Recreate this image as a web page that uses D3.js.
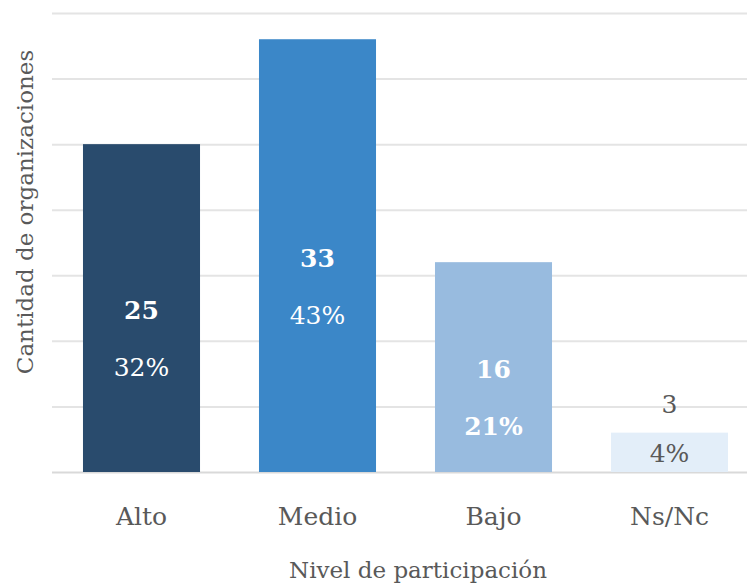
<!DOCTYPE html>
<html>
<head>
<meta charset="utf-8">
<script src="https://cdn.jsdelivr.net/npm/d3@7"></script>
<style>
  html, body { margin: 0; padding: 0; background: #ffffff; }
  svg { display: block; }
</style>
</head>
<body>
<svg id="chart" width="747" height="587"></svg>
<script>
// Participation level of organisations: count and share per level
const categories = ["Alto", "Medio", "Bajo", "Ns/Nc"];
const counts = [25, 33, 16, 3];
const shares = ["32%", "43%", "21%", "4%"];
const barColors = ["#294b6d", "#3b87c8", "#98bbdf", "#e3eef9"];
const gridTicks = [0, 5, 10, 15, 20, 25, 30, 35];

const W = 747, H = 587;
const plot = { left: 52, right: 747, top: 13, bottom: 472 };
const font = "'DejaVu Serif', 'Liberation Serif', serif";
const grey = "#595959";

const svg = d3.select("#chart");

const x = d3.scaleBand()
  .domain(categories)
  .range([53.5, 757.5])
  .paddingInner(0.335)
  .paddingOuter(0.1675);

const y = d3.scaleLinear()
  .domain([0, 35])
  .range([plot.bottom, plot.top]);

// horizontal gridlines
const yAxis = d3.axisLeft(y)
  .tickValues(gridTicks)
  .tickSize(-(plot.right - plot.left))
  .tickFormat("");
const gy = svg.append("g")
  .attr("transform", `translate(${plot.left},0)`)
  .call(yAxis);
gy.select(".domain").remove();
gy.selectAll(".tick line")
  .attr("stroke", d => d === 0 ? "#d9d9d9" : "#e4e4e4")
  .attr("stroke-width", 2);

// bars
const rows = categories.map((c, i) => ({ cat: c, value: counts[i], share: shares[i], color: barColors[i] }));

svg.append("g").selectAll("rect")
  .data(rows)
  .join("rect")
  .attr("x", d => x(d.cat))
  .attr("y", d => y(d.value))
  .attr("width", x.bandwidth())
  .attr("height", d => y(0) - y(d.value))
  .attr("fill", d => d.color);

// category axis
const xAxis = d3.axisBottom(x).tickSize(0).tickPadding(0);
const gx = svg.append("g")
  .attr("transform", `translate(0,${plot.bottom})`)
  .call(xAxis);
gx.select(".domain").remove();
gx.selectAll(".tick text")
  .attr("y", 53)
  .attr("dy", 0)
  .attr("font-family", font)
  .attr("font-size", 25)
  .attr("fill", grey);

// value + share labels
const shortBar = d => (y(0) - y(d.value)) < 80;
const boldShare = new Set(["Bajo"]);
const labels = svg.append("g").attr("text-anchor", "middle").attr("font-family", font);

rows.forEach(d => {
  const cx = x(d.cat) + x.bandwidth() / 2;
  const mid = (y(d.value) + y(0)) / 2;
  if (shortBar(d)) {
    labels.append("text")
      .attr("x", cx).attr("y", y(d.value) - 29)
      .attr("dy", "0.36em")
      .attr("font-size", 25)
      .attr("fill", grey)
      .text(d.value);
    labels.append("text")
      .attr("x", cx).attr("y", mid + 1)
      .attr("dy", "0.36em")
      .attr("font-size", 25)
      .attr("fill", grey)
      .text(d.share);
  } else {
    labels.append("text")
      .attr("x", cx).attr("y", mid + 2)
      .attr("dy", "0.36em")
      .attr("font-size", 25)
      .attr("font-weight", "bold")
      .attr("fill", "#ffffff")
      .text(d.value);
    labels.append("text")
      .attr("x", cx).attr("y", mid + 59)
      .attr("dy", "0.36em")
      .attr("font-size", 25)
      .attr("font-weight", boldShare.has(d.cat) ? "bold" : "normal")
      .attr("fill", "#ffffff")
      .text(d.share);
  }
});

// axis titles
svg.append("text")
  .attr("x", 418)
  .attr("y", 578)
  .attr("text-anchor", "middle")
  .attr("font-family", font)
  .attr("font-size", 23)
  .attr("fill", grey)
  .text("Nivel de participación");

svg.append("text")
  .attr("transform", "translate(33,212) rotate(-90)")
  .attr("text-anchor", "middle")
  .attr("font-family", font)
  .attr("font-size", 23)
  .attr("fill", grey)
  .text("Cantidad de organizaciones");
</script>
</body>
</html>
